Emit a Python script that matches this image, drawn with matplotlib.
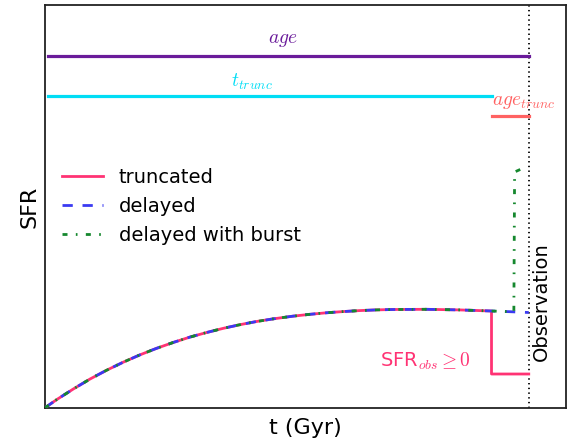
import matplotlib
matplotlib.use("Agg")
import matplotlib.pyplot as plt

plt.rcParams['mathtext.fontset'] = 'cm'
plt.rcParams['font.family'] = ['DejaVu Sans']
plt.rcParams['lines.scale_dashes'] = False

# ---- data ----
t_curve = [0, 0.32, 0.77, 1.22, 1.66, 2.11, 2.55, 3.0, 3.45, 3.9, 4.34, 4.8, 5.23,
           5.69, 6.13, 6.66, 7.1, 7.56, 8.0, 8.45, 8.9, 9.34, 10.24, 11.13, 12.0]
sfr_curve = [0, 0.083, 0.19, 0.29, 0.377, 0.458, 0.53, 0.596, 0.655, 0.709, 0.754, 0.797,
             0.832, 0.865, 0.891, 0.918, 0.936, 0.952, 0.964, 0.974, 0.981, 0.985, 0.987,
             0.981, 0.97]

t_trunc = 12.0
t_obs = 13.0
sfr_trunc_after = 0.34

t_delayed_tail = [12.5, 13.0]
sfr_delayed_tail = [0.963, 0.955]

t_burst_tail = [12.5, 12.6, 12.62, 12.8]
sfr_burst_tail = [0.963, 0.961, 2.36, 2.39]

age_level = 3.52
ttrunc_level = 3.12
agetrunc_level = 2.92
line_start = 0.1

# ---- colours ----
c_trunc = '#FF3374'
c_delay = '#3A3AF2'
c_burst = '#15882E'
c_age = '#6A1B9A'
c_tt = '#00DDF5'
c_at = '#FF6262'

fig = plt.figure(figsize=(5.72, 4.41), dpi=100)
ax = fig.add_axes([0.078, 0.0748, 0.9115, 0.9139])

# truncated
t_tr = t_curve + [t_trunc, t_obs]
s_tr = sfr_curve + [sfr_trunc_after, sfr_trunc_after]
ax.plot(t_tr, s_tr, color=c_trunc, lw=2, label='truncated', zorder=3)

# delayed
t_de = t_curve + t_delayed_tail
s_de = sfr_curve + sfr_delayed_tail
ax.plot(t_de, s_de, color=c_delay, lw=2, dashes=(7.4, 7.0), label='delayed', zorder=4)

# delayed with burst
t_bu = t_curve + t_burst_tail
s_bu = sfr_curve + sfr_burst_tail
ax.plot(t_bu, s_bu, color=c_burst, lw=2, dashes=(3.6, 6.0, 1.2, 6.0),
        label='delayed with burst', zorder=5)

# horizontal bars
ax.plot([line_start, t_obs], [age_level, age_level], color=c_age, lw=2.3, zorder=2)
ax.plot([line_start, t_trunc], [ttrunc_level, ttrunc_level], color=c_tt, lw=2.3, zorder=2)
ax.plot([t_trunc, t_obs], [agetrunc_level, agetrunc_level], color=c_at, lw=2.3, zorder=2)

# observation line
ax.axvline(t_obs, color='black', lw=1.3, dashes=(1.0, 2.4), zorder=1)

# texts
ax.text(6.40, 3.68, r'$age$', color=c_age, fontsize=14, ha='center', va='center')
ax.text(5.57, 3.26, r'$t_{trunc}$', color=c_tt, fontsize=14, ha='center', va='center')
ax.text(12.87, 3.06, r'$age_{trunc}$', color=c_at, fontsize=14, ha='center', va='center')
ax.text(10.24, 0.47, r'SFR$_{obs} \geq 0$', color=c_trunc, fontsize=14, ha='center', va='center')
ax.text(13.35, 1.06, 'Observation', color='black', fontsize=14, rotation=90,
        ha='center', va='center')

ax.set_xlim(0, 14)
ax.set_ylim(0, 4.03)
ax.set_xticks([])
ax.set_yticks([])
for sp in ax.spines.values():
    sp.set_linewidth(1.3)
    sp.set_color('#222222')

ax.set_xlabel('t (Gyr)', fontsize=16, labelpad=7)
ax.set_ylabel('SFR', fontsize=16, labelpad=4)

ax.legend(loc='center left', frameon=False, fontsize=14, handlelength=2.1)

fig.savefig('out.png', dpi=100)
